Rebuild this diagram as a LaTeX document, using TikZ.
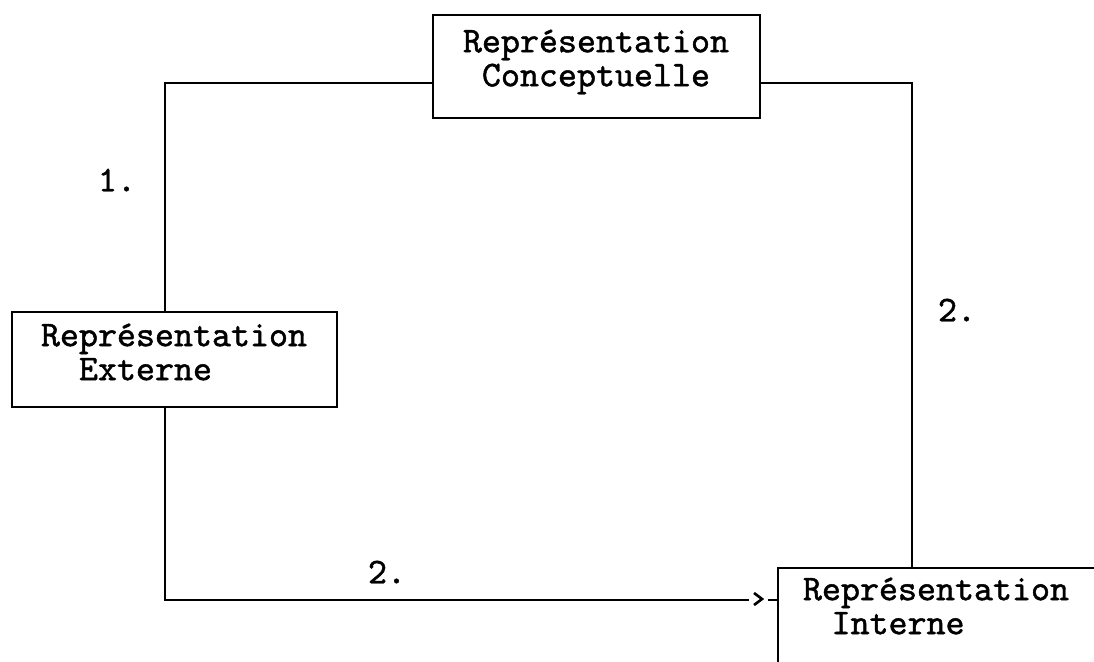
\documentclass[tikz,border=0pt]{standalone}
\usepackage{fontspec}
\newfontfamily\typew{lmmono10-regular.otf}[FakeBold=1.3]
\usetikzlibrary{calc}
\tikzset{
  frame/.style={draw, line width=1.3pt, rectangle, inner sep=0pt},
  conn/.style={line width=1.2pt},
  txt/.style={font=\typew\fontsize{18.1}{17}\selectfont, inner sep=0pt},
}
\begin{document}
\begin{tikzpicture}[x=0.5pt, y=-0.5pt]
\useasboundingbox (0,0) rectangle (1094,662);
\clip (0,0) rectangle (1094,662);
\fill[white] (0,0) rectangle (1094,662);

% boxes
\node[frame, minimum width=162.5pt, minimum height=47.5pt] (ext) at (174.5,359.5) {};
\node[frame, minimum width=163.5pt, minimum height=51.5pt] (conc) at (596.5,66.5) {};
\node[frame, minimum width=166pt, minimum height=66pt] (int) at (944,634) {};

% box texts
\node[txt, align=center] (concT) at (596,62) {Représentation\\Conceptuelle};
\node[txt, align=left] (extT) at (174,352) {Représentation\\\hspace*{1.05em}Externe};
\node[txt, align=left] (intT) at (936,606) {Représentation\\\hspace*{0.79em}Interne};

% labels
\node[txt] (l1) at (117,180) {1.};
\node[txt] (l2) at (957,310) {2.};
\node[txt] (l3) at (387,572) {2.};

% connectors
\coordinate (tipA) at (749,600);
\coordinate (dashA) at (768,600);
\draw[conn] ($(ext.north)+(-9.5,0)$) |- ($(conc.west)+(0,16.5)$);
\draw[conn] ($(conc.east)+(0,16.5)$) -| ($(int.north)+(-32,0)$);
\draw[conn] ($(ext.south)+(-9.5,0)$) |- (tipA);
\draw[line width=1.3pt] ($(tipA)+(5,-7)$) -- ($(tipA)+(13,-1)$) -- ($(tipA)+(5,5)$);
\draw[conn] (dashA) -- (dashA -| int.west);
\end{tikzpicture}
\end{document}
